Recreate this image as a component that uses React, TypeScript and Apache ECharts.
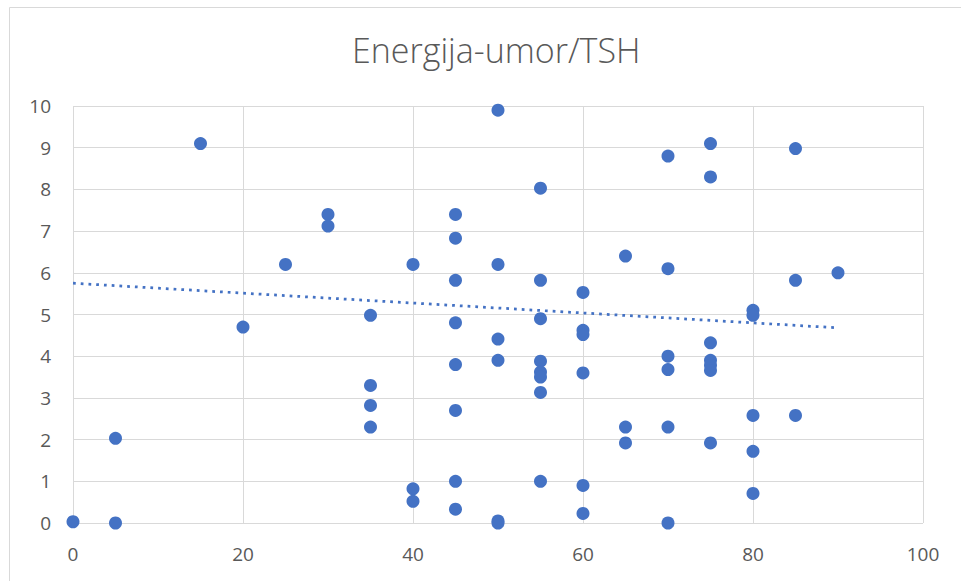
import React, { useEffect, useRef } from "react";
import * as echarts from "echarts";

const titleText = "Energija-umor/TSH";

// TSH-related score (x) and energy/fatigue score (y), one entry per respondent
const xValues = [
  0,
  5, 5,
  15,
  20,
  25,
  30, 30,
  35, 35, 35, 35,
  40, 40, 40,
  45, 45, 45, 45, 45, 45, 45, 45,
  50, 50, 50, 50, 50, 50,
  55, 55, 55, 55, 55, 55, 55, 55,
  60, 60, 60, 60, 60, 60,
  65, 65, 65,
  70, 70, 70, 70, 70, 70,
  75, 75, 75, 75, 75, 75, 75,
  80, 80, 80, 80, 80,
  85, 85, 85,
  90,
];
const yValues = [
  0.03,
  2.03, 0,
  9.1,
  4.7,
  6.2,
  7.4, 7.12,
  4.98, 3.3, 2.82, 2.3,
  6.2, 0.82, 0.52,
  7.4, 6.83, 5.82, 4.8, 3.8, 2.7, 1.0, 0.33,
  9.9, 6.2, 4.41, 3.9, 0.05, 0,
  8.03, 5.82, 4.9, 3.88, 3.62, 3.5, 3.13, 1.0,
  5.53, 4.62, 4.52, 3.6, 0.9, 0.23,
  6.4, 2.3, 1.92,
  8.8, 6.1, 4.0, 3.68, 2.3, 0,
  9.1, 8.3, 4.32, 3.9, 3.78, 3.66, 1.92,
  5.1, 4.98, 2.58, 1.72, 0.71,
  8.98, 5.82, 2.58,
  6.0,
];

// Linear trendline as drawn in the source
const trendX = [0, 90];
const trendY = [5.75, 4.68];

const xMin = 0, xMax = 100, xStep = 20;
const yMin = 0, yMax = 10, yStep = 1;

export default function App() {
  const ref = useRef<HTMLDivElement>(null);
  useEffect(() => {
    if (!ref.current) return;
    const chart = echarts.init(ref.current, null, { renderer: "svg" });
    const points = xValues.map((x, i) => [x, yValues[i]]);
    const trend = trendX.map((x, i) => [x, trendY[i]]);
    const labelColor = "#595959";
    const gridColor = "#d9d9d9";
    chart.setOption({
      animation: false,
      backgroundColor: "#ffffff",
      title: {
        text: titleText,
        left: 347,
        top: 28,
        textStyle: {
          fontFamily: "Open Sans",
          fontSize: 34,
          fontWeight: 300,
          color: labelColor,
        },
      },
      graphic: [
        {
          type: "rect",
          shape: { x: 9.5, y: 7.5, width: 1000, height: 1000 },
          style: { fill: "none", stroke: gridColor, lineWidth: 1 },
          silent: true,
          z: -10,
        },
      ],
      grid: {
        left: 73,
        right: 38,
        top: 106,
        bottom: 58,
        containLabel: false,
      },
      xAxis: {
        type: "value",
        min: xMin,
        max: xMax,
        interval: xStep,
        axisLine: { show: false },
        axisTick: { show: false },
        axisLabel: {
          color: labelColor,
          fontFamily: "Open Sans",
          fontSize: 19,
          margin: 21,
        },
        splitLine: { show: true, lineStyle: { color: gridColor, width: 1 } },
      },
      yAxis: {
        type: "value",
        min: yMin,
        max: yMax,
        interval: yStep,
        axisLine: { show: false },
        axisTick: { show: false },
        axisLabel: {
          color: labelColor,
          fontFamily: "Open Sans",
          fontSize: 19,
          margin: 22,
        },
        splitLine: { show: true, lineStyle: { color: gridColor, width: 1 } },
      },
      series: [
        {
          type: "scatter",
          data: points,
          symbol: "circle",
          symbolSize: 13,
          itemStyle: { color: "#4472C4", opacity: 1 },
          z: 3,
        },
        {
          type: "line",
          data: trend,
          symbol: "none",
          lineStyle: { color: "#4472C4", width: 2.75, type: [2.75, 5] },
          z: 2,
        },
      ],
    });
    return () => chart.dispose();
  }, []);
  return (
    <div
      ref={ref}
      style={{ position: "absolute", left: 0, top: 0, width: 961, height: 581 }}
    />
  );
}
